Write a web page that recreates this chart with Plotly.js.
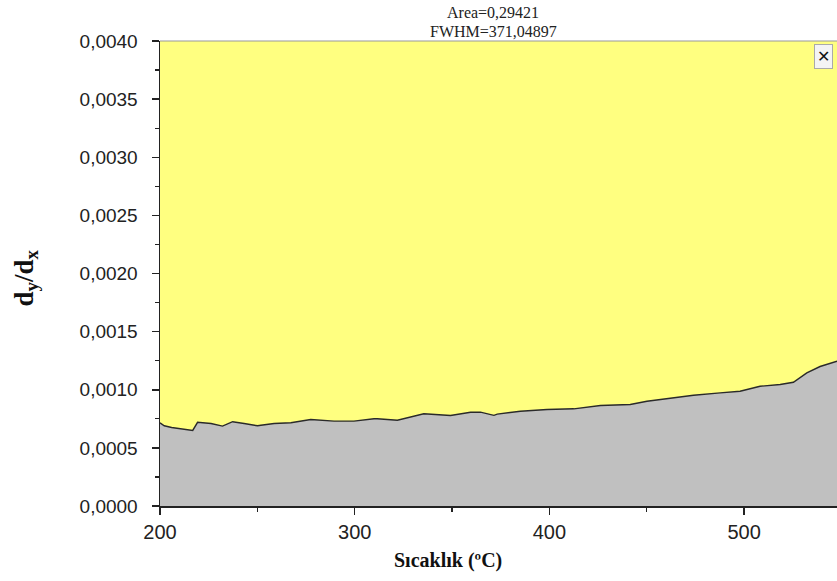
<!DOCTYPE html>
<html>
<head>
<meta charset="utf-8">
<script src="https://cdn.plot.ly/plotly-3.0.1.min.js"></script>
<style>body{margin:0;background:#fff}#chart{width:837px;height:581px}</style>
</head>
<body>
<div id="chart"></div>
<script>
// Temperature (°C)
const temperature = [200, 202.2, 206, 210.8, 216.8, 219.3, 226.2, 232.1, 237.3, 243.2, 250.1, 251.8, 258.6, 267.2, 272.3, 277.4, 289.4, 299.6, 309.9, 311.6, 321.9, 335.5, 349.2, 359.5, 364.6, 371.5, 373.2, 385.1, 398.8, 412.5, 426.2, 441.5, 450.1, 460.4, 474.0, 487.7, 497.9, 508.2, 518.5, 525.3, 532.2, 539.0, 547.7];
// dy/dx values
const derivative = [0.000716, 0.00069, 0.000675, 0.000664, 0.00065, 0.00072, 0.00071, 0.000687, 0.000725, 0.00071, 0.00069, 0.000695, 0.00071, 0.000716, 0.00073, 0.000744, 0.00073, 0.00073, 0.00075, 0.00075, 0.000738, 0.000793, 0.000779, 0.000807, 0.000807, 0.00078, 0.00079, 0.000815, 0.00083, 0.000836, 0.000864, 0.000873, 0.000901, 0.000924, 0.000953, 0.000973, 0.000987, 0.00103, 0.001045, 0.001064, 0.001145, 0.0012, 0.001245];
const xTicks = [200, 300, 400, 500];
const yTicks = [0, 0.0005, 0.0010, 0.0015, 0.0020, 0.0025, 0.0030, 0.0035, 0.0040];
const yTickLabels = ["0,0000", "0,0005", "0,0010", "0,0015", "0,0020", "0,0025", "0,0030", "0,0035", "0,0040"];
const titleLines = ["Area=0,29421", "FWHM=371,04897"];

const trace = {
  x: temperature, y: derivative, type: 'scatter', mode: 'lines',
  fill: 'tozeroy', fillcolor: '#c0c0c0',
  line: {color: '#2a2a2a', width: 1.4},
  hoverinfo: 'skip'
};

const serif = 'Liberation Serif, Times New Roman, serif';
const titleX = (493 - 160) / 677;

const layout = {
  width: 837, height: 581,
  margin: {l: 160, r: 0, t: 41, b: 75},
  paper_bgcolor: '#ffffff',
  plot_bgcolor: '#ffff80',
  showlegend: false,
  font: {family: 'Liberation Sans, Arial, sans-serif', color: '#222'},
  xaxis: {
    range: [200, 547.7], tickvals: xTicks, ticktext: xTicks.map(String),
    ticks: 'outside', ticklen: 7, tickwidth: 1.5, tickcolor: '#222',
    showline: true, linecolor: '#222', linewidth: 1.5, showgrid: false, zeroline: false,
    tickfont: {size: 20, color: '#222'},
    minor: {dtick: 50, ticks: 'outside', ticklen: 4, tickwidth: 1.2, tickcolor: '#222'}
  },
  yaxis: {
    range: [0, 0.0040], tickvals: yTicks, ticktext: yTickLabels,
    ticks: 'outside', ticklen: 7, tickwidth: 1.5, tickcolor: '#222',
    showline: true, linecolor: '#222', linewidth: 1.5, showgrid: false, zeroline: false,
    tickfont: {size: 19, color: '#222'}, ticklabelstandoff: 10,
    minor: {dtick: 0.00025, ticks: 'outside', ticklen: 4, tickwidth: 1.2, tickcolor: '#222'}
  },
  shapes: [
    {type: 'line', xref: 'paper', yref: 'paper', x0: 0, x1: 1, y0: 1, y1: 1, line: {color: '#999', width: 1}}
  ],
  annotations: [
    {text: titleLines[0], xref: 'paper', yref: 'paper', x: titleX, y: 1, yanchor: 'middle', xanchor: 'center',
     yshift: 29, showarrow: false, font: {family: serif, size: 16, color: '#222'}},
    {text: titleLines[1], xref: 'paper', yref: 'paper', x: titleX, y: 1, yanchor: 'middle', xanchor: 'center',
     yshift: 10, showarrow: false, font: {family: serif, size: 16, color: '#222'}},
    {text: '<b>Sıcaklık (ºC)</b>', xref: 'paper', yref: 'paper', x: (448 - 160) / 677, y: 0, yanchor: 'middle', xanchor: 'center',
     yshift: -54, showarrow: false, font: {family: serif, size: 20, color: '#111'}},
    {text: '<b>d<sub>y</sub>/d<sub>x</sub></b>', xref: 'paper', yref: 'paper', x: 0, y: 0.5, xanchor: 'center', yanchor: 'middle',
     xshift: -135, yshift: -5, textangle: -90, showarrow: false, font: {family: serif, size: 27, color: '#111'}},
    {text: '<b>✕</b>', xref: 'paper', yref: 'paper', x: 1, y: 1, xanchor: 'right', yanchor: 'top', xshift: -4, yshift: -3,
     showarrow: false, bgcolor: '#f4f4f4', bordercolor: '#aaa', borderwidth: 1, borderpad: 2,
     font: {family: 'DejaVu Sans, sans-serif', size: 16, color: '#111'}}
  ]
};

Plotly.newPlot('chart', [trace], layout, {displayModeBar: false, staticPlot: true});
</script>
</body>
</html>
